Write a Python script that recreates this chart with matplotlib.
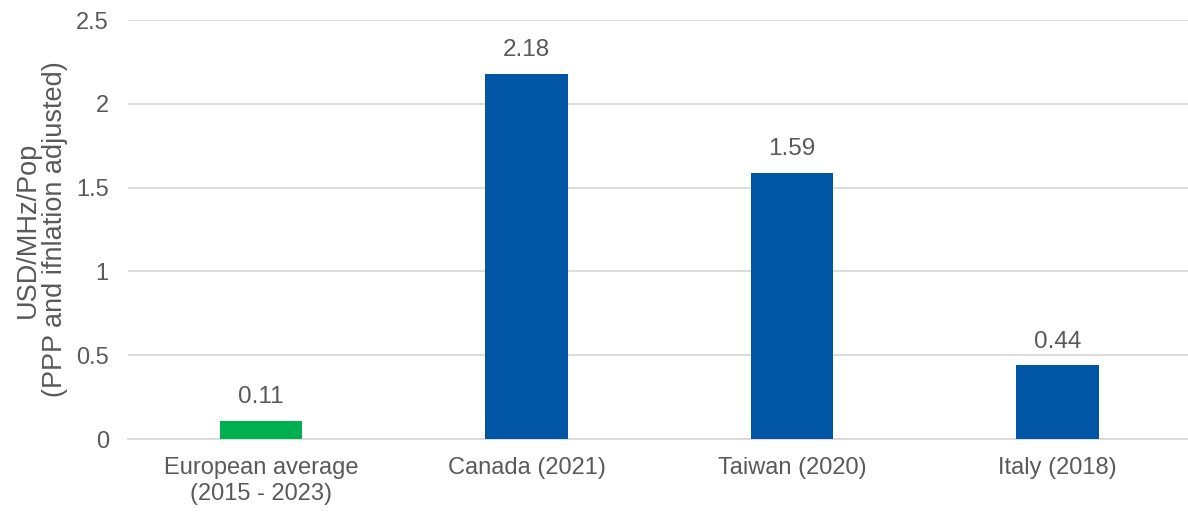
import matplotlib.pyplot as plt

# data
categories = ["European average\n(2015 - 2023)", "Canada (2021)", "Taiwan (2020)", "Italy (2018)"]
values = [0.11, 2.18, 1.59, 0.44]
bar_colors = ["#00B050", "#0055A4", "#0055A4", "#0055A4"]
y_ticks = [0, 0.5, 1, 1.5, 2, 2.5]
y_tick_labels = ["0", "0.5", "1", "1.5", "2", "2.5"]

plt.rcParams["font.family"] = ["Liberation Sans", "DejaVu Sans"]
text_color = "#595959"

fig = plt.figure(figsize=(11.88, 5.13), dpi=100)
ax = fig.add_axes([0.108, 0.144, 0.894, 0.817])

x = range(len(categories))
ax.bar(x, values, width=0.31, color=bar_colors, zorder=3)

# value labels above bars
for xi, v in zip(x, values):
    ax.annotate(f"{v:.2f}", (xi, v), xytext=(0, 9), textcoords="offset points",
                ha="center", va="bottom", fontsize=17.5, color=text_color)

ax.set_xlim(-0.5, len(categories) - 0.5)
ax.set_ylim(0, 2.5)
ax.set_yticks(y_ticks)
ax.set_yticklabels(y_tick_labels)
ax.set_xticks(list(x))
ax.set_xticklabels(categories, linespacing=1.2)
ax.tick_params(axis="both", length=0, labelsize=17, labelcolor=text_color)
ax.tick_params(axis="y", pad=14)
ax.tick_params(axis="x", pad=13)

ax.yaxis.grid(True, color="#D9D9D9", linewidth=1.3, zorder=0)
for side in ["top", "right", "left"]:
    ax.spines[side].set_visible(False)
ax.spines["bottom"].set_color("#D9D9D9")
ax.spines["bottom"].set_linewidth(1.3)

ax.set_ylabel("USD/MHz/Pop\n(PPP and ifnlation adjusted)", fontsize=19.5,
              color=text_color, labelpad=6, linespacing=1.05)

fig.savefig("out.png", dpi=100)
